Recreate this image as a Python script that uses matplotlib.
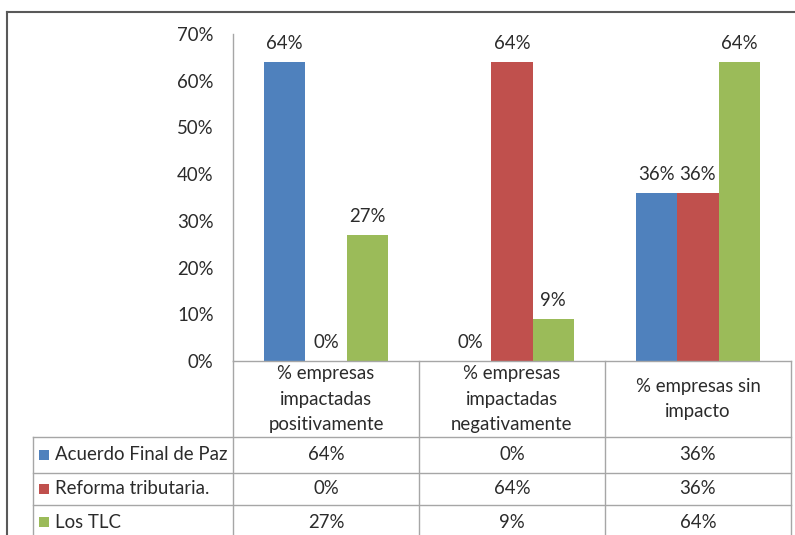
import matplotlib
matplotlib.use("Agg")
import matplotlib.pyplot as plt
from matplotlib.lines import Line2D
from matplotlib.patches import Rectangle

categories = ["% empresas\nimpactadas\npositivamente",
              "% empresas\nimpactadas\nnegativamente",
              "% empresas sin\nimpacto"]
series_names = ["Acuerdo Final de Paz", "Reforma tributaria.", "Los TLC"]
acuerdo = [0.64, 0.00, 0.36]
reforma = [0.00, 0.64, 0.36]
tlc = [0.27, 0.09, 0.64]
yticks = [0.0, 0.1, 0.2, 0.3, 0.4, 0.5, 0.6, 0.7]
colors = ["#4F81BD", "#C0504D", "#9BBB59"]

plt.rcParams['font.family'] = ['Lato', 'DejaVu Sans']
TXT = "#2b2b2b"
FS = 13.4

W, H = 795, 535
fig = plt.figure(figsize=(W / 100, H / 100), dpi=100)

def fx(px):
    return px / W

def fy(py):
    return 1 - py / H

# plot area
x0, x1 = 233, 791
ytop, ybase = 34, 361
ax = fig.add_axes([fx(x0), fy(ybase), fx(x1) - fx(x0), fy(ytop) - fy(ybase)])
ax.set_xlim(0, len(categories))
ax.set_ylim(0, 0.70)

series = [acuerdo, reforma, tlc]
bw = 2 / 9
for i, vals in enumerate(series):
    xs = [c + 0.5 + (i - 1) * bw for c in range(len(categories))]
    bars = ax.bar(xs, vals, width=bw, color=colors[i], linewidth=0)
    for b, v in zip(bars, vals):
        ax.annotate(f"{round(v * 100):d}%", (b.get_x() + b.get_width() / 2, v),
                    xytext=(0, 7), textcoords="offset points",
                    ha="center", va="bottom", fontsize=FS, color=TXT)

ax.set_yticks(yticks)
ax.set_yticklabels([f"{round(t * 100):d}%" for t in yticks], fontsize=FS, color=TXT)
ax.tick_params(axis="y", length=0, pad=14)
ax.set_xticks([])
for s in ["top", "right"]:
    ax.spines[s].set_visible(False)
ax.spines["left"].set_color("#A6A6A6")
ax.spines["bottom"].set_color("#A6A6A6")
ax.spines["left"].set_linewidth(1)
ax.spines["bottom"].set_linewidth(1)

# table
LC = "#A6A6A6"
col_edges = [x0 + (x1 - x0) * k / 3 for k in range(4)]
row_edges = [ybase, 437, 473, 505, 539]
tab_left = 33

def hline(y, xa, xb, c=LC, lw=1):
    fig.add_artist(Line2D([fx(xa), fx(xb)], [fy(y), fy(y)], color=c, lw=lw))

def vline(x, ya, yb, c=LC, lw=1):
    fig.add_artist(Line2D([fx(x), fx(x)], [fy(ya), fy(yb)], color=c, lw=lw))

for y in row_edges[1:]:
    hline(y, tab_left, x1)
vline(tab_left, row_edges[1], row_edges[-1])
for x in col_edges:
    vline(x, ybase, row_edges[-1])

for c, lab in enumerate(categories):
    cx = (col_edges[c] + col_edges[c + 1]) / 2
    cy = (row_edges[0] + row_edges[1]) / 2
    fig.text(fx(cx), fy(cy), lab, ha="center", va="center", fontsize=FS,
             color=TXT, linespacing=1.6)

for r, (name, vals) in enumerate(zip(series_names, series)):
    cy = (row_edges[r + 1] + row_edges[r + 2]) / 2
    fig.add_artist(Rectangle((fx(39), fy(cy + 5)), fx(10), fy(0) - fy(10),
                             transform=fig.transFigure, color=colors[r], lw=0))
    fig.text(fx(55), fy(cy), name, ha="left", va="center", fontsize=FS, color=TXT)
    for c, v in enumerate(vals):
        cx = (col_edges[c] + col_edges[c + 1]) / 2
        fig.text(fx(cx), fy(cy), f"{round(v * 100):d}%", ha="center", va="center",
                 fontsize=FS, color=TXT)

# outer chart frame
hline(12, 7, 796, c="#595959", lw=1.5)
vline(7, 12, 536, c="#595959", lw=1.5)

fig.savefig("out.png", dpi=100)
